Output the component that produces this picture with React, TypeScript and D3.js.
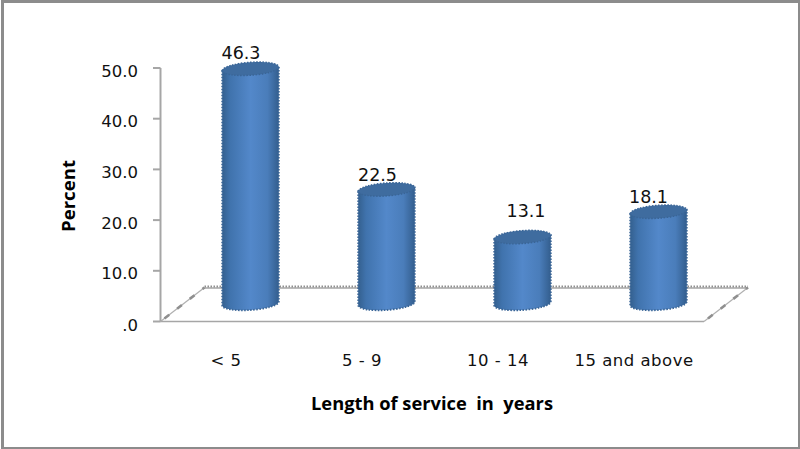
import React, { useEffect, useRef } from "react";
import * as d3 from "d3";

const categories = ["< 5", "5 - 9", "10 - 14", "15 and above"];
const percents = [46.3, 22.5, 13.1, 18.1];
const tickValues = [0, 10, 20, 30, 40, 50];
const yTitle = "Percent";
const xTitle = "Length of service  in  years";

// Hand-placed data label offsets from the centre of each cylinder's top face
const labelNudgeX = [-9.5, -9, 3.5, -10];
const labelNudgeY = [-9.5, -8, -20, -8.5];

const WIDTH = 800;
const HEIGHT = 449;
const LABEL_FONT = "'DejaVu Sans', sans-serif";
const TITLE_FONT = "'Open Sans', sans-serif";

export default function App() {
  const ref = useRef<SVGSVGElement | null>(null);

  useEffect(() => {
    const svg = d3.select(ref.current);
    svg.selectAll("*").remove();

    const y = d3.scaleLinear().domain([0, 50]).range([321.5, 68]);
    const x = d3.scaleBand<string>().domain(categories).range([182.5, 726.5]);
    const lift = 18; // floor centre sits above the front edge of the plane
    const depthX = 44;
    const depthY = 34;
    const rx = 28.3;
    const ry = 6.5;
    const tilt = -4;

    const defs = svg.append("defs");
    const side = defs
      .append("linearGradient")
      .attr("id", "cyl")
      .attr("x1", 0)
      .attr("x2", 1)
      .attr("y1", 0)
      .attr("y2", 0);
    [
      [0, "#34608f"],
      [0.14, "#4073ad"],
      [0.5, "#5388ca"],
      [0.8, "#4a7dba"],
      [1, "#335e8e"],
    ].forEach(([o, c]) => side.append("stop").attr("offset", o as number).attr("stop-color", c as string));

    // Outer frame
    svg.append("rect").attr("x", 1).attr("y", 0).attr("width", 799).attr("height", 449).attr("fill", "#8c8c8c");
    svg.append("rect").attr("x", 4).attr("y", 3).attr("width", 794).attr("height", 444).attr("fill", "#fff");

    // Floor plane
    const x0 = 160.5;
    const x1 = 704;
    const front = 321.5;
    const back = front - depthY;
    const axisColor = "#a6a6a6";
    svg.append("line").attr("x1", x0).attr("x2", x1).attr("y1", front).attr("y2", front)
      .attr("stroke", axisColor).attr("stroke-width", 1.6);
    svg.append("line").attr("x1", x0 + depthX).attr("x2", x1 + depthX).attr("y1", back + 0.5).attr("y2", back + 0.5)
      .attr("stroke", axisColor).attr("stroke-width", 1.4);
    svg.append("line").attr("x1", x0 + depthX).attr("x2", x1 + depthX).attr("y1", back - 1).attr("y2", back - 1)
      .attr("stroke", "#8f8f8f").attr("stroke-width", 2).attr("stroke-dasharray", "1.5 1.5");
    [x0, x1].forEach((start) => {
      svg.append("line").attr("x1", start).attr("x2", start + depthX).attr("y1", front).attr("y2", back)
        .attr("stroke", "#b0b0b0").attr("stroke-width", 1.2);
      svg.append("line").attr("x1", start).attr("x2", start + depthX).attr("y1", front).attr("y2", back)
        .attr("stroke", "#8f8f8f").attr("stroke-width", 2.6).attr("stroke-dasharray", "6 10")
        .attr("stroke-dashoffset", -5);
    });

    // Value axis
    svg.append("line").attr("x1", x0).attr("x2", x0).attr("y1", y(50)).attr("y2", front)
      .attr("stroke", axisColor).attr("stroke-width", 2);
    const yTicks = svg.append("g");
    yTicks.selectAll("line").data(tickValues).join("line")
      .attr("x1", 153).attr("x2", x0).attr("y1", (d) => y(d)).attr("y2", (d) => y(d))
      .attr("stroke", axisColor).attr("stroke-width", 2);
    yTicks.selectAll("text").data(tickValues).join("text")
      .attr("x", 138).attr("y", (d) => y(d) + (d === 0 ? 9.5 : 8.5)).attr("text-anchor", "end")
      .attr("font-family", LABEL_FONT).attr("font-size", 16.5)
      .attr("fill", "#111")
      .text((d) => (d === 0 ? ".0" : d.toFixed(1)));

    // Cylinders
    const baseY = front - lift;
    categories.forEach((cat, i) => {
      const cx = (x(cat) as number) + x.bandwidth() / 2;
      const value = percents[i];
      const topY = y(value) - (y(0) - baseY);
      const g = svg.append("g");
      const bodyPath = `M${cx - rx},${topY + 2} L${cx - rx},${baseY + 2} A${rx},${ry} ${tilt} 0 0 ${cx + rx},${baseY - 2} L${cx + rx},${topY - 2} Z`;
      g.append("path").attr("d", bodyPath).attr("fill", "url(#cyl)");
      g.append("path").attr("d", bodyPath).attr("fill", "none").attr("stroke", "#3a6596")
        .attr("stroke-width", 1.8).attr("stroke-dasharray", "1.5 1.5");
      g.append("ellipse").attr("cx", cx).attr("cy", topY).attr("rx", rx).attr("ry", ry)
        .attr("transform", `rotate(${tilt} ${cx} ${topY})`)
        .attr("fill", "#3f6c9f").attr("stroke", "#3a6596").attr("stroke-width", 1.4).attr("stroke-dasharray", "1.5 1.5");
      svg.append("text").attr("x", cx + labelNudgeX[i]).attr("y", topY + labelNudgeY[i]).attr("text-anchor", "middle")
        .attr("font-family", LABEL_FONT).attr("font-size", 17.5).attr("fill", "#111")
        .text(value.toFixed(1));
      svg.append("text").attr("x", cx - 24.5).attr("y", 365.5).attr("text-anchor", "middle")
        .attr("font-family", LABEL_FONT).attr("font-size", 16.5).attr("letter-spacing", 0.5).attr("fill", "#111")
        .text(cat);
    });

    // Axis titles, condensed to the width of the tall narrow lettering
    svg.append("text").attr("transform", "translate(75,196) rotate(-90)").attr("text-anchor", "middle")
      .attr("font-family", TITLE_FONT).attr("font-weight", 700).attr("font-size", 18).attr("fill", "#000")
      .attr("textLength", 72).attr("lengthAdjust", "spacingAndGlyphs").text(yTitle);
    svg.append("text").attr("x", 432).attr("y", 409.5).attr("text-anchor", "middle")
      .attr("font-family", TITLE_FONT).attr("font-weight", 700).attr("font-size", 18).attr("fill", "#000")
      .attr("textLength", 242).attr("lengthAdjust", "spacingAndGlyphs")
      .style("white-space", "pre").text(xTitle);
  }, []);

  return (
    <svg
      ref={ref}
      width={WIDTH}
      height={HEIGHT}
      style={{ position: "absolute", left: 0, top: 0, display: "block" }}
    />
  );
}
